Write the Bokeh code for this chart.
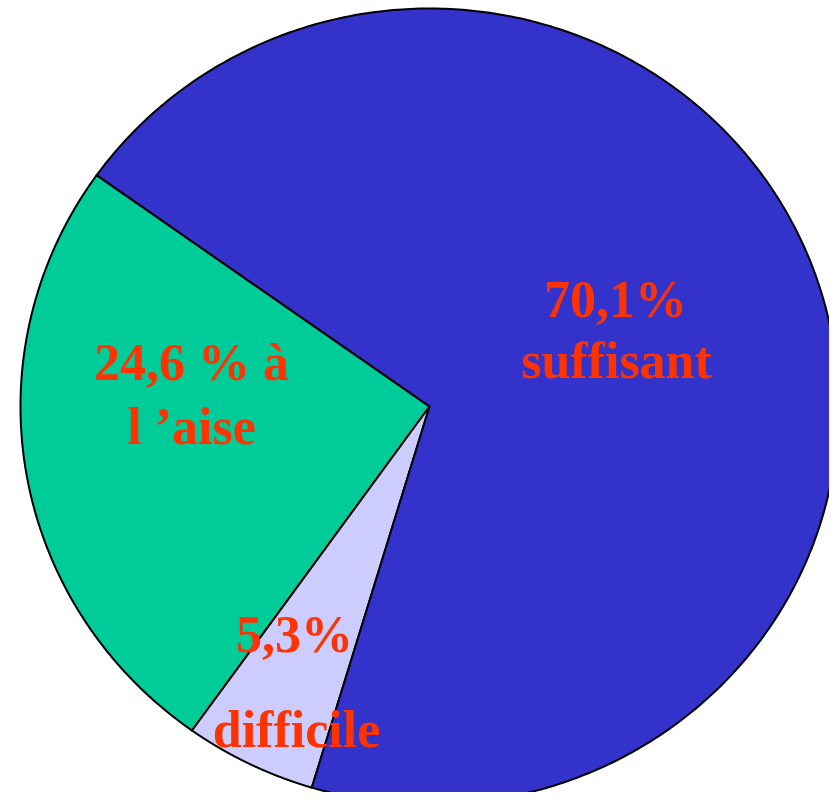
import numpy as np
from bokeh.plotting import figure
from bokeh.models import Range1d, ColumnDataSource
from bokeh.core.properties import value
from bokeh.embed import file_html
from bokeh.resources import INLINE

# Data
categories = ["à l'aise", "difficile", "suffisant"]
percentages = [24.6, 5.3, 70.1]
colors = ["#00CC99", "#CCCCFF", "#3333CC"]
label_lines = [["24,6 % à", "l \u2019aise"], ["5,3%", "difficile"], ["70,1%", "suffisant"]]

# Layout (screen-like coordinates, y negated)
W, H = 829, 792
cx, cy = 429, -406
rx, ry = 409, 398
start_deg = 145.2

p = figure(width=W, height=H, output_backend="svg", toolbar_location=None,
           x_range=Range1d(0, W), y_range=Range1d(-H, 0),
           min_border=0)
p.axis.visible = False
p.grid.visible = False
p.outline_line_color = None
p.background_fill_color = "white"
p.border_fill_color = "white"

vals = np.array(percentages, dtype=float)
fr = vals / vals.sum()
edges = start_deg + 360.0 * np.concatenate([[0], np.cumsum(fr)])

xs, ys = [], []
for i in range(len(vals)):
    th = np.radians(np.linspace(edges[i], edges[i + 1], 400))
    r = 1.0 / np.sqrt((np.cos(th) / rx) ** 2 + (np.sin(th) / ry) ** 2)
    xs.append(np.concatenate([[cx], cx + r * np.cos(th), [cx]]).tolist())
    ys.append(np.concatenate([[cy], cy + r * np.sin(th), [cy]]).tolist())

src = ColumnDataSource(dict(xs=xs, ys=ys, color=colors, cat=categories))
p.patches("xs", "ys", source=src, fill_color="color", line_color="black",
          line_width=2, line_join="miter")

# Label positions (screen px): center x, baseline y per line
label_pos = [[(191, 362), (191, 426)], [(294, 634), (296, 729)], [(615, 299), (616, 360)]]
tx, ty, tt = [], [], []
for lines, pos in zip(label_lines, label_pos):
    for t, (x, y) in zip(lines, pos):
        tx.append(x)
        ty.append(-y)
        tt.append(t)
p.text(x=tx, y=ty, text=tt, text_font=value("Liberation Serif"),
       text_font_style="bold", text_font_size="52px", text_color="#FF3300",
       text_align="center", text_baseline="alphabetic")

open("out.html", "w").write(file_html(p, INLINE))
